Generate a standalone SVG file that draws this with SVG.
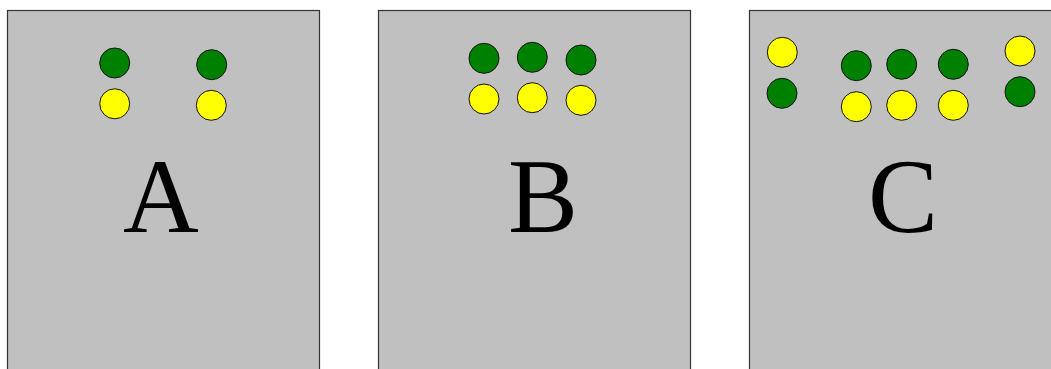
<svg xmlns="http://www.w3.org/2000/svg" width="1051" height="369" viewBox="0 0 1051 369">
<style>
.panel{fill:#c0c0c0;stroke:#333;stroke-width:1.2}
.g{fill:#008000;stroke:#111;stroke-width:1}
.y{fill:#ffff00;stroke:#111;stroke-width:1}
.lbl{font-family:"Liberation Serif","Times New Roman",serif;font-size:105px;fill:#000;text-anchor:middle}
</style>
<rect width="1051" height="369" fill="#fff"/>
<g id="panelA">
<rect class="panel" x="7.5" y="10.5" width="312" height="370"/>
<circle class="g" cx="114.7" cy="63" r="15"/>
<circle class="y" cx="114.7" cy="103.8" r="15"/>
<circle class="g" cx="211.7" cy="64.7" r="15"/>
<circle class="y" cx="211.3" cy="105.3" r="15"/>
<text class="lbl" x="161" y="232">A</text>
</g>
<g id="panelB">
<rect class="panel" x="378.5" y="10.5" width="312" height="370"/>
<circle class="g" cx="484" cy="58.3" r="15"/>
<circle class="g" cx="532.3" cy="57.3" r="15"/>
<circle class="g" cx="581" cy="60" r="15"/>
<circle class="y" cx="484" cy="99" r="15"/>
<circle class="y" cx="532.3" cy="97.7" r="15"/>
<circle class="y" cx="581" cy="100.3" r="15"/>
<text class="lbl" x="543" y="232">B</text>
</g>
<g id="panelC">
<rect class="panel" x="749.5" y="10.5" width="312" height="370"/>
<circle class="y" cx="782.3" cy="52.3" r="15"/>
<circle class="g" cx="782" cy="93.3" r="15"/>
<circle class="g" cx="856.3" cy="65.7" r="15"/>
<circle class="g" cx="901.7" cy="64.3" r="15"/>
<circle class="g" cx="953.3" cy="64.3" r="15"/>
<circle class="y" cx="856.3" cy="106.7" r="15"/>
<circle class="y" cx="901.7" cy="105.3" r="15"/>
<circle class="y" cx="953.3" cy="105.3" r="15"/>
<circle class="y" cx="1020" cy="51" r="15"/>
<circle class="g" cx="1020" cy="91.7" r="15"/>
<text class="lbl" x="903" y="232">C</text>
</g>
</svg>
